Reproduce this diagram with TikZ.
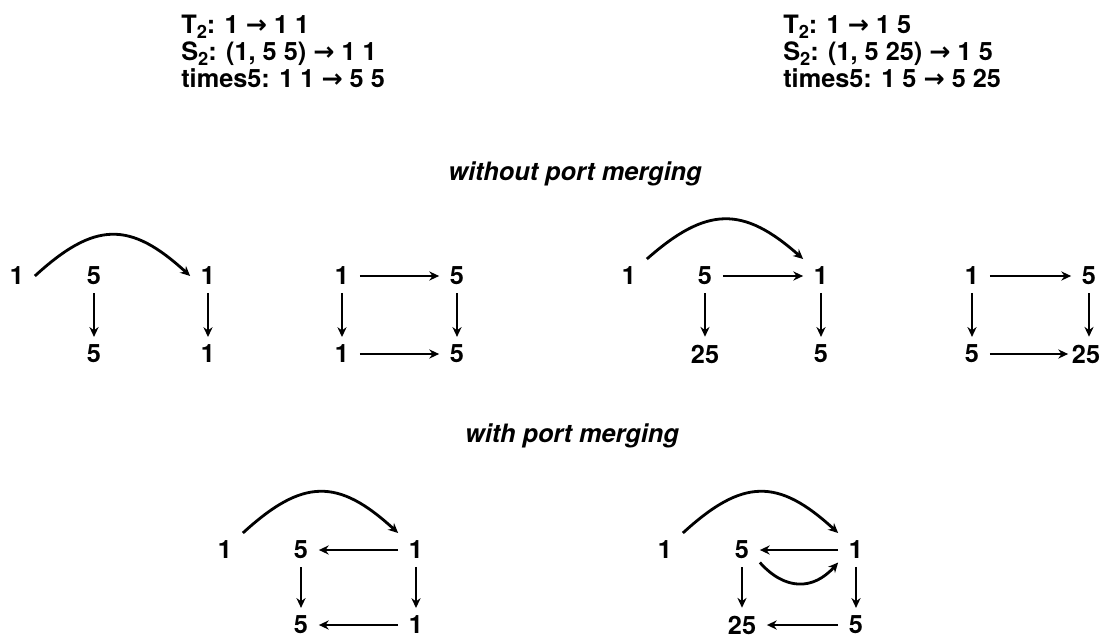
\documentclass[tikz,border=0pt]{standalone}
\usepackage{fontspec}
\setmainfont{TeX Gyre Heros}
\newfontfamily\arrowfont{DejaVu Sans}
\usetikzlibrary{arrows.meta}
\newcommand\portarrow{{\arrowfont\bfseries →}}
\newcommand\portsub[1]{\raisebox{-3.8pt}{\fontsize{13}{13}\selectfont\bfseries #1}}
\begin{document}
\begin{tikzpicture}[x=0.025cm, y=-0.025cm, >={Stealth[length=7pt,width=6.5pt]},
  lbl/.style={font=\fontsize{18}{20}\selectfont\bfseries, inner sep=0pt, anchor=base west},
  num/.style={font=\fontsize{18}{20}\selectfont\bfseries, inner xsep=7.5pt, inner ysep=5.5pt},
  caption/.style={font=\fontsize{18}{20}\selectfont\bfseries\itshape, inner sep=0pt, anchor=base},
  arr/.style={->, line width=1.4pt},
  hop/.style={->, line width=2pt}]
  \useasboundingbox (0,0) rectangle (1103,638);
  % port mappings
  \node[lbl] (tl) at (181,33) {T\portsub{2}: 1 \portarrow{} 1 1};
  \node[lbl] (sl) at (181,60) {S\portsub{2}: (1, 5 5) \portarrow{} 1 1};
  \node[lbl] (ml) at (181,87) {times5: 1 1 \portarrow{} 5 5};
  \node[lbl] (tr) at (783,33) {T\portsub{2}: 1 \portarrow{} 1 5};
  \node[lbl] (sr) at (783,60) {S\portsub{2}: (1, 5 25) \portarrow{} 1 5};
  \node[lbl] (mr) at (783,87) {times5: 1 5 \portarrow{} 5 25};
  \node[caption] (wo) at (575,180) {without port merging};
  \node[caption] (wi) at (572,442) {with port merging};
  % without port merging, left
  \node[num] (a1) at (17,276) {1};
  \node[num] (a2) at (94,276) {5};
  \node[num] (a3) at (208,276) {1};
  \node[num] (a4) at (94,354) {5};
  \node[num] (a5) at (208,354) {1};
  \draw[hop] (a1.east) .. controls +(60,-55) and +(-60,-55) .. (a3.west);
  \draw[arr] (a2) -- (a4);
  \draw[arr] (a3) -- (a5);
  \node[num] (b1) at (342,276) {1};
  \node[num] (b2) at (457,276) {5};
  \node[num] (b3) at (342,354) {1};
  \node[num] (b4) at (457,354) {5};
  \draw[arr] (b1) -- (b2);
  \draw[arr] (b1) -- (b3);
  \draw[arr] (b2) -- (b4);
  \draw[arr] (b3) -- (b4);
  % without port merging, right
  \node[num] (c1) at (629,276) {1};
  \node[num] (c2) at (705,276) {5};
  \node[num] (c3) at (821,276) {1};
  \node[num] (c4) at (705,354) {25};
  \node[num] (c5) at (821,354) {5};
  \draw[hop] (c1.north east) .. controls +(60,-53) and +(-60,-53) .. (c3.north west);
  \draw[arr] (c2) -- (c3);
  \draw[arr] (c2) -- (c4);
  \draw[arr] (c3) -- (c5);
  \node[num] (d1) at (972,276) {1};
  \node[num] (d2) at (1089,276) {5};
  \node[num] (d3) at (972,354) {5};
  \node[num] (d4) at (1086,354) {25};
  \draw[arr] (d1) -- (d2);
  \draw[arr] (d1) -- (d3);
  \draw[arr] (d2.south) -- (d2.south |- d4.north);
  \draw[arr, shorten >=-5pt] (d3) -- (d4);
  % with port merging
  \node[num] (e1) at (225,550) {1};
  \node[num] (e2) at (301,550) {5};
  \node[num] (e3) at (416,550) {1};
  \node[num] (e4) at (301,625) {5};
  \node[num] (e5) at (416,625) {1};
  \draw[hop] (e1.north east) .. controls +(60,-55) and +(-60,-55) .. (e3.north west);
  \draw[arr] (e3) -- (e2);
  \draw[arr] (e2) -- (e4);
  \draw[arr] (e3) -- (e5);
  \draw[arr] (e5) -- (e4);
  \node[num] (f1) at (665,550) {1};
  \node[num] (f2) at (742,550) {5};
  \node[num] (f3) at (856,550) {1};
  \node[num] (f4) at (742,625) {25};
  \node[num] (f5) at (856,625) {5};
  \draw[hop] (f1.north east) .. controls +(60,-55) and +(-60,-55) .. (f3.north west);
  \draw[arr] (f3) -- (f2);
  \draw[hop] (f2.-35) .. controls +(25,28) and +(-25,28) .. (f3.-145);
  \draw[arr] (f2) -- (f4);
  \draw[arr] (f3) -- (f5);
  \draw[arr] (f5) -- (f4);
\end{tikzpicture}
\end{document}
